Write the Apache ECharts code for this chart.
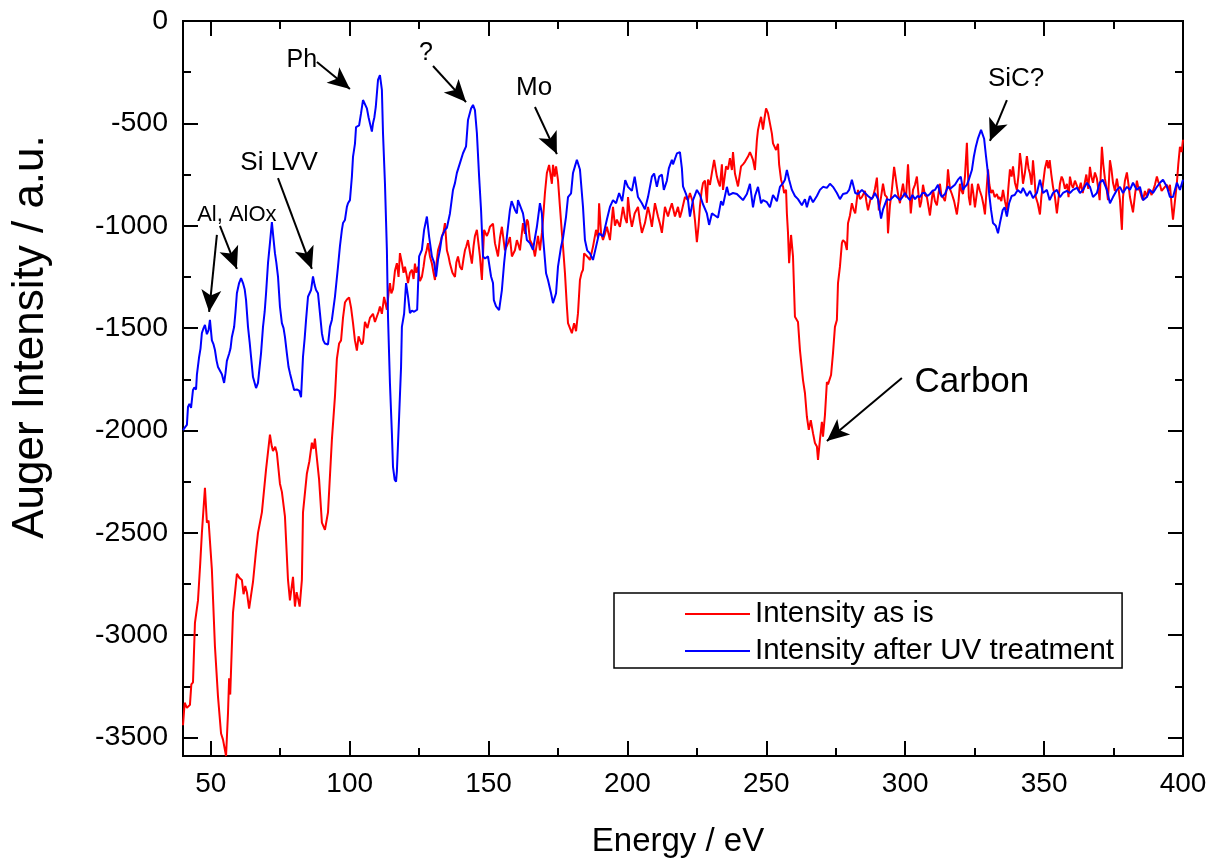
<!DOCTYPE html>
<html>
<head>
    <meta charset="utf-8">
    <title>Auger spectrum</title>
    <script src="https://cdn.jsdelivr.net/npm/echarts@6/dist/echarts.min.js"></script>
    <style>
        html, body { margin: 0; padding: 0; background: #fff; }
    </style>
</head>
<body>
    <div id="chart" style="width:1210px;height:859px;"></div>

    <script type="text/javascript">
        // [energy eV, intensity a.u.]
        var asIs = [
            [40.0,-3440],[40.6,-3330],[41.4,-3355],[42.5,-3340],[43.0,-3240],[43.6,-3230],[44.3,-2940],[45.4,-2830],[46.2,-2650],[46.8,-2500],
            [47.9,-2280],[48.6,-2450],[49.2,-2440],[50.4,-2680],[51.5,-3055],[52.6,-3300],[53.7,-3480],[54.4,-3510],[55.5,-3590],[56.2,-3380],
            [56.6,-3210],[57.0,-3290],[58.0,-2890],[59.4,-2700],[60.3,-2720],[61.2,-2730],[61.8,-2800],[62.4,-2760],[63.0,-2790],[63.8,-2870],
            [65.2,-2740],[66.2,-2600],[67.0,-2500],[68.4,-2400],[69.9,-2190],[71.3,-2020],[72.0,-2080],[72.4,-2100],[73.2,-2080],[73.8,-2110],
            [74.9,-2260],[75.6,-2300],[76.7,-2420],[77.8,-2730],[78.5,-2830],[79.6,-2715],[80.3,-2860],[80.9,-2790],[81.4,-2820],[82.0,-2860],
            [82.8,-2730],[83.2,-2400],[84.6,-2210],[85.5,-2150],[86.4,-2060],[87.0,-2090],[87.5,-2040],[88.0,-2110],[89.0,-2240],[90.0,-2450],
            [91.1,-2485],[92.2,-2400],[93.6,-2045],[94.7,-1835],[95.4,-1650],[96.2,-1575],[96.9,-1560],[97.6,-1450],[98.3,-1375],[99.0,-1360],
            [99.8,-1350],[100.5,-1400],[101.2,-1475],[101.9,-1560],[102.6,-1610],[103.2,-1540],[103.7,-1545],[104.3,-1580],[104.8,-1570],[105.5,-1470],
            [106.4,-1500],[107.3,-1450],[108.4,-1430],[109.1,-1470],[109.8,-1475],[110.4,-1420],[110.9,-1395],[111.6,-1430],[112.4,-1348],[113.4,-1410],
            [114.0,-1330],[114.5,-1280],[115.0,-1330],[115.6,-1310],[116.3,-1220],[117.0,-1183],[117.6,-1250],[118.1,-1134],[118.8,-1180],[119.4,-1230],
            [119.9,-1200],[120.5,-1240],[121.0,-1280],[121.7,-1230],[122.4,-1215],[123.0,-1260],[123.5,-1185],[124.0,-1230],[124.6,-1200],[125.3,-1270],
            [126.0,-1250],[126.6,-1200],[127.1,-1150],[127.7,-1120],[128.2,-1085],[128.9,-1150],[129.6,-1185],[130.2,-1230],[130.7,-1265],[131.3,-1180],
            [131.8,-1120],[132.5,-1090],[133.2,-1053],[133.8,-1030],[134.3,-987],[135.0,-1120],[135.6,-1150],[136.1,-1185],[137.0,-1230],[137.9,-1250],
            [138.4,-1180],[139.0,-1150],[139.7,-1200],[140.4,-1215],[141.0,-1160],[141.5,-1120],[142.0,-1100],[142.6,-1070],[143.3,-1130],[144.0,-1185],
            [144.6,-1100],[145.1,-1050],[145.8,-1020],[146.4,-1090],[146.9,-1150],[147.6,-1265],[148.4,-1020],[149.4,-1050],[150.0,-1030],[150.5,-1005],
            [151.6,-990],[152.3,-1085],[153.4,-1150],[154.1,-1060],[154.8,-1005],[155.9,-1120],[157.0,-1085],[157.7,-1055],[158.4,-1150],[159.5,-1120],
            [160.2,-1070],[160.9,-1100],[161.3,-1120],[162.4,-987],[163.1,-1040],[163.8,-970],[164.2,-980],[164.9,-1070],[166.0,-1100],[166.7,-1150],
            [167.8,-1050],[168.5,-1120],[169.2,-1035],[169.6,-970],[170.3,-840],[171.0,-742],[171.8,-703],[172.4,-760],[172.8,-795],[173.2,-703],
            [173.8,-760],[174.3,-710],[175.0,-777],[175.7,-908],[176.4,-1035],[176.8,-1100],[177.5,-1230],[178.2,-1395],[178.6,-1476],[179.3,-1500],
            [180.0,-1525],[180.8,-1476],[181.5,-1515],[182.2,-1427],[182.9,-1265],[183.5,-1230],[184.0,-1215],[184.4,-1135],[185.5,-1150],[186.5,-1167],
            [187.6,-1102],[188.7,-1020],[189.4,-1060],[189.8,-890],[190.5,-1035],[191.2,-1070],[191.9,-1040],[192.6,-1005],[193.7,-1070],[194.8,-908],
            [195.5,-1000],[196.2,-970],[197.3,-1005],[198.4,-908],[199.1,-960],[199.8,-987],[200.2,-860],[200.9,-950],[201.6,-1005],[202.6,-940],
            [203.8,-908],[204.5,-980],[205.2,-1035],[206.3,-987],[207.4,-908],[208.1,-950],[208.8,-1005],[209.9,-890],[211.0,-955],[211.7,-990],
            [212.4,-1035],[213.5,-908],[214.6,-955],[215.3,-920],[216.0,-890],[217.1,-955],[218.2,-908],[218.9,-960],[219.6,-925],[220.7,-860],
            [221.8,-875],[222.5,-840],[223.2,-840],[223.6,-888],[224.3,-972],[225.0,-1080],[225.6,-1000],[226.1,-905],[226.7,-830],[227.2,-792],
            [227.9,-780],[228.6,-888],[229.0,-775],[229.7,-800],[230.4,-742],[231.2,-678],[232.2,-760],[232.8,-790],[233.3,-808],[234.0,-700],
            [234.4,-825],[235.5,-710],[236.2,-725],[236.9,-670],[237.6,-728],[238.0,-640],[238.7,-745],[239.8,-808],[240.9,-710],[241.6,-700],
            [242.3,-688],[243.4,-662],[244.1,-640],[244.7,-660],[245.2,-678],[245.9,-728],[246.6,-582],[247.0,-532],[247.5,-500],[248.1,-468],
            [248.8,-530],[249.4,-470],[249.9,-427],[250.6,-450],[251.3,-500],[252.0,-550],[252.4,-598],[253.5,-630],[254.2,-600],[254.6,-700],
            [255.3,-775],[256.0,-808],[256.4,-840],[257.1,-825],[257.4,-940],[257.8,-1035],[258.2,-1183],[258.9,-1045],[259.6,-1150],[260.3,-1445],
            [261.4,-1470],[262.1,-1607],[263.2,-1754],[263.9,-1817],[264.6,-1933],[265.3,-1997],[266.0,-1950],[266.8,-2013],[267.5,-2061],[268.2,-2078],
            [268.6,-2144],[269.3,-2045],[270.0,-1958],[270.4,-2030],[271.1,-1925],[271.8,-1763],[272.2,-1775],[273.3,-1729],[274.0,-1622],[274.7,-1494],
            [275.4,-1460],[275.8,-1280],[276.5,-1200],[277.2,-1085],[277.6,-1070],[278.3,-1080],[279.0,-1118],[279.4,-988],[280.1,-950],[280.8,-890],
            [281.4,-920],[282.0,-940],[283.0,-825],[283.7,-870],[284.4,-860],[285.5,-830],[286.0,-880],[286.6,-925],[287.5,-870],[288.4,-860],
            [289.1,-820],[289.8,-765],[290.5,-925],[291.3,-860],[292.0,-795],[292.7,-850],[293.4,-860],[293.8,-1037],[294.5,-900],[295.2,-825],
            [296.0,-712],[296.5,-760],[297.0,-810],[297.6,-860],[298.1,-890],[298.6,-840],[299.2,-795],[299.8,-850],[300.3,-860],[301.0,-700],
            [301.5,-820],[302.0,-940],[302.8,-825],[303.5,-800],[304.2,-760],[304.8,-850],[305.3,-910],[305.8,-880],[306.4,-800],[307.1,-850],
            [307.8,-860],[308.3,-900],[308.9,-950],[309.5,-880],[310.0,-825],[310.7,-880],[311.4,-900],[312.0,-840],[312.5,-795],[313.0,-850],
            [313.6,-860],[314.3,-880],[315.0,-810],[315.4,-725],[316.1,-820],[316.8,-845],[317.6,-880],[318.6,-945],[319.2,-880],[319.7,-795],
            [320.3,-830],[320.8,-845],[321.5,-760],[322.2,-595],[322.9,-860],[323.4,-900],[324.0,-795],[324.5,-840],[325.1,-910],[325.7,-850],
            [326.2,-795],[326.9,-830],[327.6,-860],[328.2,-900],[328.7,-945],[329.2,-840],[329.8,-725],[330.3,-800],[330.9,-840],[331.5,-825],
            [332.2,-860],[333.0,-845],[333.6,-870],[334.0,-860],[334.6,-880],[335.2,-825],[335.9,-880],[336.6,-925],[337.1,-820],[337.7,-725],
            [338.3,-760],[338.8,-710],[339.5,-790],[340.2,-825],[340.8,-750],[341.3,-645],[341.8,-700],[342.4,-795],[343.1,-740],[343.8,-660],
            [344.4,-720],[344.9,-745],[345.5,-800],[346.0,-680],[346.5,-760],[347.0,-860],[347.7,-890],[348.5,-945],[349.0,-860],[349.6,-795],
            [350.3,-720],[351.0,-680],[351.5,-720],[352.0,-680],[352.6,-750],[353.2,-810],[353.9,-860],[354.6,-940],[355.1,-880],[355.7,-795],
            [356.3,-760],[356.8,-775],[357.5,-820],[358.2,-795],[358.8,-860],[359.3,-760],[359.9,-800],[360.4,-815],[361.1,-780],[361.8,-775],
            [362.5,-830],[363.2,-790],[363.9,-840],[364.5,-800],[365.2,-750],[365.9,-820],[366.5,-712],[367.0,-760],[367.6,-790],[368.3,-740],
            [369.0,-770],[369.5,-820],[370.0,-875],[370.8,-615],[371.3,-700],[371.9,-770],[372.5,-820],[373.0,-875],[373.7,-680],[374.2,-720],
            [374.8,-790],[375.5,-830],[376.2,-770],[376.8,-820],[377.3,-875],[378.0,-1020],[378.4,-860],[379.1,-780],[379.8,-740],[380.4,-800],
            [380.9,-860],[381.5,-900],[382.0,-935],[382.7,-850],[383.4,-780],[384.0,-820],[384.5,-830],[385.1,-860],[385.6,-875],[386.3,-830],
            [387.0,-860],[387.6,-820],[388.1,-830],[388.7,-850],[389.2,-845],[389.9,-800],[390.6,-760],[391.2,-790],[391.7,-800],[392.3,-830],
            [392.8,-830],[393.5,-810],[394.2,-800],[394.8,-830],[395.3,-800],[395.9,-900],[396.4,-970],[397.1,-880],[397.8,-790],[398.3,-700],
            [398.9,-615],[399.5,-640],[400.0,-580]
        ];

        var afterUV = [
            [40.0,-1998],[40.7,-1985],[41.4,-1973],[41.8,-1885],[42.3,-1870],[42.9,-1890],[43.6,-1802],[44.1,-1790],[44.7,-1800],[45.0,-1729],
            [45.8,-1641],[46.3,-1600],[46.8,-1524],[47.4,-1500],[47.9,-1485],[48.6,-1530],[49.2,-1510],[49.7,-1460],[50.4,-1560],[51.0,-1580],
            [51.5,-1607],[52.1,-1660],[52.6,-1690],[53.3,-1685],[54.0,-1725],[54.8,-1768],[55.3,-1720],[55.8,-1660],[56.6,-1625],[57.1,-1600],
            [57.6,-1543],[58.4,-1495],[58.9,-1420],[59.4,-1330],[60.2,-1280],[60.9,-1256],[61.6,-1280],[62.2,-1310],[62.7,-1363],[63.4,-1494],
            [64.0,-1570],[64.5,-1641],[65.2,-1739],[66.3,-1793],[67.0,-1768],[67.5,-1700],[68.1,-1622],[68.8,-1494],[69.4,-1420],[69.9,-1330],
            [70.6,-1183],[71.3,-1085],[72.0,-982],[72.4,-1040],[73.1,-1134],[73.6,-1180],[74.2,-1248],[74.9,-1395],[75.6,-1476],[76.2,-1500],
            [76.7,-1543],[77.4,-1625],[78.0,-1690],[78.5,-1720],[79.2,-1725],[80.0,-1802],[81.0,-1800],[81.8,-1805],[82.5,-1837],[83.2,-1640],
            [83.8,-1550],[84.3,-1460],[85.0,-1347],[85.6,-1340],[86.1,-1314],[86.8,-1248],[87.4,-1290],[87.9,-1314],[88.6,-1330],[89.3,-1427],
            [90.0,-1525],[90.5,-1560],[91.1,-1575],[92.2,-1580],[92.9,-1494],[93.6,-1460],[94.7,-1347],[95.8,-1200],[96.5,-1100],[97.2,-1020],
            [97.6,-987],[98.3,-972],[99.0,-908],[99.4,-890],[100.1,-875],[100.8,-760],[101.2,-664],[101.9,-600],[102.3,-518],[102.8,-515],
            [103.4,-510],[104.1,-450],[104.8,-386],[105.5,-380],[106.2,-427],[106.8,-470],[107.3,-500],[108.0,-540],[108.4,-500],[108.9,-470],
            [109.4,-420],[110.2,-288],[110.9,-264],[111.6,-337],[112.0,-547],[112.7,-792],[113.4,-1118],[113.8,-1445],[114.5,-1769],[115.2,-2013],
            [115.6,-2178],[116.2,-2240],[116.7,-2250],[117.0,-2200],[117.8,-1933],[118.5,-1690],[118.8,-1494],[119.6,-1430],[120.3,-1280],[121.0,-1345],
            [121.7,-1427],[122.4,-1415],[123.2,-1420],[124.3,-1410],[125.0,-1150],[126.0,-1118],[126.8,-1020],[127.8,-955],[128.6,-1053],[129.6,-1150],
            [130.4,-1180],[131.1,-1248],[131.8,-1167],[132.5,-1118],[133.2,-1053],[134.3,-1020],[135.0,-1010],[136.1,-940],[137.2,-825],[137.9,-792],
            [138.6,-742],[139.7,-694],[140.8,-646],[141.9,-612],[142.6,-483],[143.7,-427],[144.4,-410],[145.1,-435],[145.8,-547],[146.6,-760],
            [147.3,-923],[148.0,-1150],[148.7,-1160],[149.8,-1150],[150.9,-1248],[151.6,-1280],[151.9,-1363],[152.7,-1394],[153.8,-1412],[154.8,-1314],
            [155.6,-1183],[156.6,-1053],[157.7,-923],[158.3,-880],[158.8,-875],[159.5,-923],[160.2,-940],[160.6,-875],[161.3,-875],[162.4,-940],
            [163.1,-1000],[163.8,-1070],[164.9,-1085],[166.0,-1118],[166.7,-1060],[167.4,-1005],[168.5,-890],[169.2,-940],[169.6,-1053],[170.7,-1232],
            [171.4,-1265],[172.5,-1330],[173.2,-1378],[174.3,-1330],[175.0,-1200],[176.1,-1102],[176.8,-1060],[177.9,-955],[178.6,-860],[179.7,-842],
            [180.4,-742],[181.1,-710],[181.8,-678],[182.9,-725],[184.0,-908],[184.7,-1070],[185.5,-1120],[186.5,-1135],[187.6,-1167],[188.7,-1102],
            [189.8,-1037],[191.2,-1053],[192.6,-970],[193.7,-908],[194.8,-875],[195.9,-890],[197.0,-840],[198.1,-880],[199.2,-777],[200.2,-810],
            [201.6,-830],[202.6,-760],[203.8,-860],[205.2,-890],[206.3,-920],[207.4,-860],[208.8,-760],[209.6,-745],[210.6,-810],[211.4,-760],
            [212.4,-750],[213.1,-825],[214.2,-780],[214.9,-720],[216.0,-678],[216.4,-700],[217.8,-647],[218.9,-640],[219.6,-720],[220.0,-808],
            [221.0,-842],[221.8,-875],[222.5,-955],[223.6,-875],[224.3,-850],[225.0,-825],[226.1,-850],[227.2,-895],[228.6,-940],[229.4,-996],
            [230.4,-940],[231.5,-950],[232.6,-960],[233.7,-880],[234.4,-900],[235.8,-810],[236.5,-850],[238.0,-840],[239.4,-845],[240.5,-860],
            [241.6,-875],[243.0,-845],[244.1,-795],[245.2,-910],[245.9,-855],[247.0,-810],[248.1,-890],[248.8,-875],[250.2,-885],[251.3,-910],
            [252.4,-850],[253.8,-880],[254.9,-810],[256.0,-792],[256.7,-775],[257.4,-728],[258.2,-775],[259.2,-825],[260.3,-855],[261.4,-870],
            [262.8,-900],[263.9,-870],[264.6,-910],[265.7,-855],[266.8,-885],[268.2,-855],[269.3,-825],[270.4,-810],[271.8,-815],[272.9,-795],
            [274.0,-810],[275.4,-840],[276.5,-870],[277.6,-845],[279.0,-840],[279.8,-825],[280.8,-775],[282.0,-840],[283.0,-845],[284.4,-825],
            [285.5,-840],[286.6,-855],[288.0,-870],[289.1,-840],[290.2,-870],[291.3,-965],[292.0,-920],[293.4,-870],[294.5,-875],[295.6,-860],
            [296.3,-850],[297.0,-855],[298.1,-875],[299.0,-860],[299.9,-840],[300.8,-860],[301.7,-875],[302.6,-850],[303.5,-870],[304.4,-855],
            [305.3,-860],[306.2,-840],[307.1,-840],[308.0,-855],[308.9,-845],[309.8,-830],[310.7,-825],[311.8,-800],[312.5,-840],[313.2,-860],
            [314.3,-845],[315.4,-808],[316.1,-820],[316.8,-825],[317.9,-800],[319.0,-775],[320.0,-760],[320.8,-825],[321.5,-810],[322.2,-800],
            [322.9,-775],[324.0,-728],[324.7,-663],[325.4,-615],[326.2,-573],[327.3,-532],[328.0,-540],[328.4,-575],[329.1,-663],[329.8,-745],
            [330.2,-842],[330.9,-923],[331.6,-987],[332.6,-1000],[333.4,-1037],[334.1,-987],[335.1,-923],[335.8,-910],[336.6,-955],[337.4,-890],
            [338.3,-855],[339.4,-850],[340.5,-825],[341.7,-840],[342.4,-815],[343.8,-855],[344.9,-830],[346.0,-865],[347.4,-840],[348.5,-775],
            [349.6,-840],[351.0,-825],[352.0,-875],[353.2,-840],[354.6,-825],[355.7,-860],[356.8,-840],[358.2,-830],[359.3,-840],[360.4,-825],
            [361.8,-815],[362.9,-840],[364.0,-825],[365.4,-790],[366.5,-810],[367.6,-860],[369.0,-840],[370.0,-790],[371.1,-775],[372.6,-825],
            [373.7,-890],[374.8,-860],[376.2,-825],[377.3,-810],[378.4,-840],[379.8,-810],[380.9,-825],[382.0,-790],[383.4,-825],[384.5,-810],
            [385.6,-875],[387.0,-860],[388.1,-825],[389.2,-840],[390.6,-810],[391.7,-790],[392.8,-775],[394.2,-810],[395.3,-860],[396.4,-860],
            [397.8,-790],[398.9,-825],[400.0,-775]
        ];

        var xTicks = [50, 100, 150, 200, 250, 300, 350, 400];
        var xMinor = [75, 125, 175, 225, 275, 325, 375];
        var yTicks = [-3500, -3000, -2500, -2000, -1500, -1000, -500, 0];
        var yMinor = [-3250, -2750, -2250, -1750, -1250, -750, -250];

        // annotation arrows: [x0, y0, x1, y1] in data units (tail -> head)
        var arrows = [
            [52.2, -1045, 49.4, -1421],
            [53.3, -1001, 59.4, -1211],
            [74.2, -767, 86.4, -1211],
            [88.2, -200, 100.1, -332],
            [130.0, -220, 141.9, -396],
            [166.7, -420, 174.6, -650],
            [336.6, -386, 330.5, -586],
            [298.8, -1744, 271.8, -2051]
        ];
        // annotation labels: [text, x, y, font size]
        var notes = [
            ['Al, AlOx', 59.4, -948, 22],
            ['Si LVV', 74.6, -694, 26],
            ['Ph', 82.8, -190, 25],
            ['?', 127.5, -156, 25],
            ['Mo', 166.4, -327, 26],
            ['SiC?', 339.9, -283, 26],
            ['Carbon', 324.0, -1763, 35]
        ];

        var FONT = '"Liberation Sans", Arial, sans-serif';
        var XMIN = 40, XMAX = 400, YMIN = -3590, YMAX = 0;

        function plain(v) { return String(v); }

        function xAxisDef(pos, values, len, labels) {
            return {
                type: 'value', position: pos, min: XMIN, max: XMAX,
                axisLine: { show: true, onZero: false, lineStyle: { color: '#000', width: 2 } },
                axisTick: { show: true, inside: true, length: len, customValues: values,
                            lineStyle: { color: '#000', width: 2 } },
                axisLabel: labels ? { show: true, customValues: values, color: '#000', fontSize: 28,
                                      fontFamily: FONT, margin: 14, formatter: plain } : { show: false },
                splitLine: { show: false }
            };
        }
        function yAxisDef(pos, values, len, labels) {
            return {
                type: 'value', position: pos, min: YMIN, max: YMAX,
                axisLine: { show: true, onZero: false, lineStyle: { color: '#000', width: 2 } },
                axisTick: { show: true, inside: true, length: len, customValues: values,
                            lineStyle: { color: '#000', width: 2 } },
                axisLabel: labels ? { show: true, customValues: values, color: '#000', fontSize: 28.5,
                                      fontFamily: FONT, margin: 15, formatter: plain } : { show: false },
                splitLine: { show: false }
            };
        }

        var arrowLines = arrows.map(function (a) {
            return [{ coord: [a[0], a[1]] }, { coord: [a[2], a[3]] }];
        });
        var notePoints = notes.map(function (n) {
            return {
                coord: [n[1], n[2]], value: n[0],
                label: { fontSize: n[3] }
            };
        });

        var chart = echarts.init(document.getElementById('chart'));
        chart.setOption({
            backgroundColor: '#fff',
            animation: false,
            grid: { left: 183, right: 27, top: 21, bottom: 103, containLabel: false },
            xAxis: [
                xAxisDef('bottom', xTicks, 15, true),
                xAxisDef('bottom', xMinor, 8, false),
                xAxisDef('top', xTicks, 15, false),
                xAxisDef('top', xMinor, 8, false)
            ],
            yAxis: [
                yAxisDef('left', yTicks, 15, true),
                yAxisDef('left', yMinor, 8, false),
                yAxisDef('right', yTicks, 15, false),
                yAxisDef('right', yMinor, 8, false)
            ],
            legend: {
                orient: 'vertical',
                left: 614, top: 593,
                padding: [6, 8, 2, 71],
                itemGap: 7,
                icon: 'rect',
                itemWidth: 65, itemHeight: 2,
                borderColor: '#000', borderWidth: 1.5,
                backgroundColor: '#fff',
                textStyle: { color: '#000', fontSize: 29.5, fontFamily: FONT, lineHeight: 30 },
                data: ['Intensity as is', 'Intensity after UV treatment']
            },
            series: [
                {
                    name: 'Intensity as is', type: 'line', symbol: 'none',
                    xAxisIndex: 0, yAxisIndex: 0, clip: true,
                    lineStyle: { color: '#ff0000', width: 2 }, itemStyle: { color: '#ff0000' },
                    data: asIs
                },
                {
                    name: 'Intensity after UV treatment', type: 'line', symbol: 'none',
                    xAxisIndex: 0, yAxisIndex: 0, clip: true,
                    lineStyle: { color: '#0000ff', width: 2 }, itemStyle: { color: '#0000ff' },
                    data: afterUV,
                    markLine: {
                        silent: true, animation: false,
                        symbol: ['none', 'arrow'], symbolSize: [15, 22],
                        lineStyle: { color: '#000', width: 2, type: 'solid' },
                        itemStyle: { color: '#000' },
                        label: { show: false },
                        emphasis: { disabled: true },
                        data: arrowLines
                    },
                    markPoint: {
                        silent: true, animation: false,
                        symbol: 'circle', symbolSize: 0,
                        label: { show: true, position: 'inside', color: '#000', fontFamily: FONT,
                                 formatter: function (p) { return p.value; } },
                        data: notePoints
                    }
                }
            ],
            graphic: [
                {
                    type: 'text', x: 31, y: 337, rotation: Math.PI / 2,
                    style: { text: 'Auger Intensity / a.u.', fill: '#000', font: '44px ' + FONT,
                             align: 'center', verticalAlign: 'middle' }
                },
                {
                    type: 'text', x: 678, y: 842,
                    style: { text: 'Energy / eV', fill: '#000', font: '33px ' + FONT,
                             align: 'center', verticalAlign: 'middle' }
                }
            ]
        });
    </script>
</body>
</html>
